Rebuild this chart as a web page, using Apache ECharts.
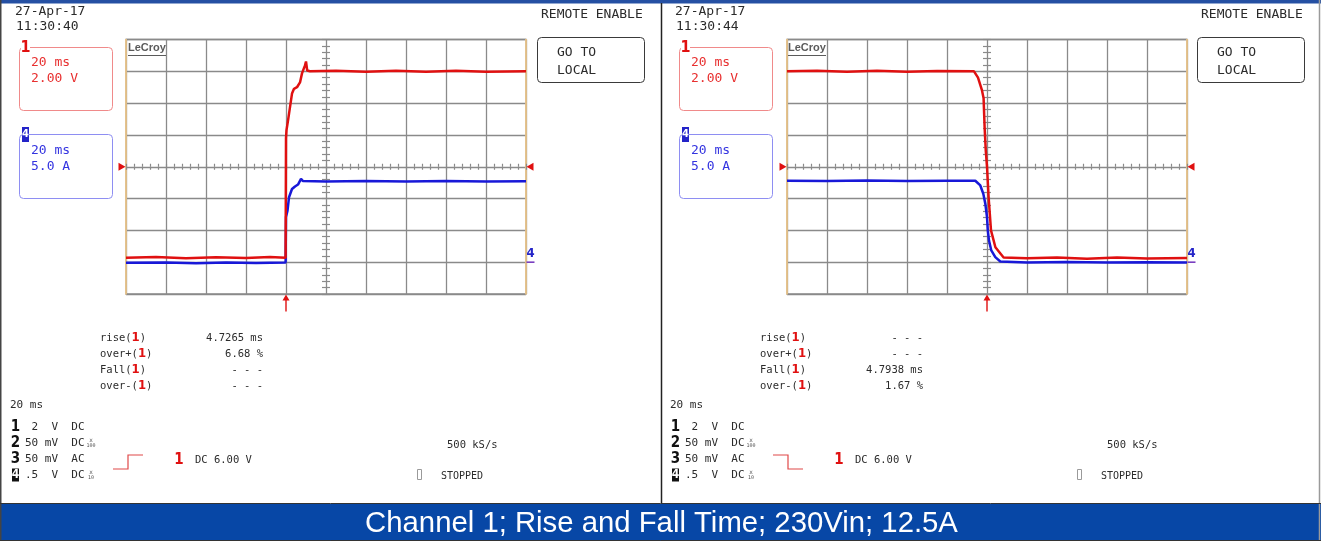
<!DOCTYPE html>
<html>
<head>
<meta charset="utf-8">
<script src="https://cdn.jsdelivr.net/npm/echarts/dist/echarts.min.js"></script>
<style>
html, body { margin: 0; padding: 0; background: #ffffff; }
#c { width: 1321px; height: 541px; }
</style>
</head>
<body>
<div id="c"></div>
<script>
// ---- Acquisition settings -------------------------------------------------
const TIME_RISE = [-80, 120];   // ms, trigger at 0, 20 ms/div
const TIME_FALL = [-100, 100];  // ms, trigger at 0, 20 ms/div
const CH1_RANGE = [-2, 14];     // V, 2 V/div, ground 3 div below centre
const CH4_RANGE = [-5, 35];     // A, 5 A/div, ground 3 div below centre
const TRIG_LEVEL = 6;           // V on channel 1

// ---- Captured traces [ms, value] -------------------------------------------
const RISE_CH1 = [[-80, 0.28], [-65, 0.33], [-50, 0.25], [-35, 0.31], [-20, 0.27], [-8, 0.32], [-0.2, 0.28],
  [0, 7.8], [0.25, 8.3], [1, 8.9], [2, 9.75], [3, 10.6], [4, 10.9], [5.5, 11.0], [7, 11.3], [8, 11.87],
  [9.5, 12.37], [10, 12.62], [10.6, 12.05], [12, 12.0], [25, 12.04], [40, 11.97], [55, 12.03], [70, 11.98],
  [85, 12.03], [100, 11.98], [120, 12.01]];
const RISE_CH4 = [[-80, -0.1], [-60, -0.05], [-45, -0.15], [-30, -0.05], [-15, -0.12], [-0.2, -0.05],
  [0, 7.1], [0.75, 8.1], [1.5, 10.2], [3, 11.5], [4.5, 11.9], [6, 12.2], [7.5, 13.1], [8.5, 12.75],
  [20, 12.7], [40, 12.76], [60, 12.68], [80, 12.75], [100, 12.7], [120, 12.72]];
const FALL_CH1 = [[-100, 12.0], [-85, 12.03], [-70, 11.97], [-55, 12.03], [-40, 11.98], [-25, 12.02],
  [-6.5, 12.0], [-4.5, 11.6], [-2.5, 10.8], [-1.7, 10.3], [-1.2, 8.5], [-0.6, 7.0], [0, 6.0],
  [0.8, 4.1], [2, 2.0], [4.2, 0.94], [8.3, 0.3], [20, 0.24], [35, 0.3], [50, 0.22], [65, 0.29],
  [80, 0.23], [100, 0.27]];
const FALL_CH4 = [[-100, 12.8], [-80, 12.76], [-60, 12.82], [-40, 12.75], [-20, 12.8], [-5.85, 12.8],
  [-3.35, 12.06], [-1.85, 10.75], [-0.85, 9.2], [0, 7.07], [0.4, 5.0], [1.0, 3.4], [2.15, 1.84],
  [4.15, 0.79], [6.65, 0.1], [20, -0.05], [40, 0.02], [60, -0.06], [80, 0.0], [100, -0.04]];

// ---- Screen texts ---------------------------------------------------------
const MEAS_NAMES = ['rise', 'over+', 'Fall', 'over-'];
const RISE_MEAS = ['4.7265 ms', '6.68 %', '- - -', '- - -'];
const FALL_MEAS = ['- - -', '- - -', '4.7938 ms', '1.67 %'];
const STAMPS = [['27-Apr-17', '11:30:40'], ['27-Apr-17', '11:30:44']];
const CH1_LABEL = ['20 ms', '2.00 V'];
const CH4_LABEL = ['20 ms', '5.0 A'];
const CHANNEL_ROWS = [['1', ' 2  V  DC', ''], ['2', '50 mV  DC', '100'], ['3', '50 mV  AC', ''], ['4', '.5  V  DC', '10']];
const TIMEBASE = '20 ms';
const SAMPLE_RATE = '500 kS/s';
const TRIGGER_TEXT = 'DC 6.00 V';
const TITLE = 'Channel 1; Rise and Fall Time; 230Vin; 12.5A';

// ---- Styling ---------------------------------------------------------------
const MONO = '"DejaVu Sans Mono", "Liberation Mono", monospace';
const COND = '"DejaVu Sans Condensed", "DejaVu Sans", sans-serif';
const INK = '#2b2b2b';
const RED = '#e01010';
const BLUE = '#1818d8';
const GRID_C = '#8a8a8a';
const EDGE = '#f3c987';
const PANEL_DX = 661;
const GRID_BOX = { left: 126, top: 39.5, width: 400, height: 254.5 };

const ARROW = 'path://M5,0 L10,6 L6,6 L6,17 L4,17 L4,6 L0,6 Z';

function xAxesFor(gi, range) {
  const base = { gridIndex: gi, type: 'value', min: range[0], max: range[1], interval: 20,
    axisLabel: { show: false }, splitLine: { show: false } };
  const main = Object.assign({}, base, {
    axisLine: { show: false, onZero: false }, axisTick: { show: false },
    splitLine: { show: true, lineStyle: { color: GRID_C, width: 1.3 } }
  });
  const centre = inside => Object.assign({}, base, {
    position: 'bottom', offset: -GRID_BOX.height / 2,
    axisLine: { show: false, onZero: false },
    axisTick: { show: true, inside: inside, length: 3, lineStyle: { color: GRID_C, width: 1.2 } },
    minorTick: { show: true, splitNumber: 5, length: 3, lineStyle: { color: GRID_C, width: 1.2 } }
  });
  return [main, centre(true), centre(false)];
}

function yAxesFor(gi) {
  const red = { gridIndex: gi, type: 'value', min: CH1_RANGE[0], max: CH1_RANGE[1], interval: 2,
    position: 'left', axisLine: { show: true, onZero: false, lineStyle: { color: EDGE, width: 1.6 } },
    axisTick: { show: false }, axisLabel: { show: false },
    splitLine: { show: true, lineStyle: { color: GRID_C, width: 1.3 } } };
  const blue = { gridIndex: gi, type: 'value', min: CH4_RANGE[0], max: CH4_RANGE[1], interval: 5,
    position: 'right', axisLine: { show: true, onZero: false, lineStyle: { color: EDGE, width: 1.6 } },
    axisTick: { show: false }, axisLabel: { show: false }, splitLine: { show: false } };
  const centre = inside => ({ gridIndex: gi, type: 'value', min: CH1_RANGE[0], max: CH1_RANGE[1], interval: 2,
    position: 'left', offset: -GRID_BOX.width / 2,
    axisLine: { show: false, onZero: false }, axisLabel: { show: false }, splitLine: { show: false },
    axisTick: { show: true, inside: inside, length: 4, lineStyle: { color: GRID_C, width: 1.2 } },
    minorTick: { show: true, splitNumber: 5, length: 4, lineStyle: { color: GRID_C, width: 1.2 } } });
  return [red, blue, centre(true), centre(false)];
}

function traceSeries(gi, range, ch1, ch4) {
  const xi = gi * 3, yi = gi * 4;
  return [
    { type: 'line', xAxisIndex: xi, yAxisIndex: yi + 1, data: ch4, showSymbol: false, z: 3,
      lineStyle: { color: BLUE, width: 2.5 },
      markPoint: { silent: true, animation: false, data: [
        { coord: [range[1], 0], symbol: 'rect', symbolSize: [8, 1.6], symbolOffset: [4.5, 0],
          itemStyle: { color: '#7a3fc0' },
          label: { show: true, formatter: '4', position: 'top', distance: 1, color: '#2424c8',
            fontWeight: 'bold', fontSize: 13, fontFamily: COND } }
      ] } },
    { type: 'line', xAxisIndex: xi, yAxisIndex: yi, data: ch1, showSymbol: false, z: 4,
      lineStyle: { color: RED, width: 2.5 },
      markPoint: { silent: true, animation: false, label: { show: false }, itemStyle: { color: RED }, data: [
        { coord: [range[0], TRIG_LEVEL], symbol: 'triangle', symbolSize: [8, 7], symbolRotate: -90, symbolOffset: [-4, 0] },
        { coord: [range[1], TRIG_LEVEL], symbol: 'triangle', symbolSize: [8, 7], symbolRotate: 90, symbolOffset: [4, 0] },
        { coord: [0, CH1_RANGE[0]], symbol: ARROW, symbolSize: [7, 17], symbolOffset: [0, 9] }
      ] } }
  ];
}

function txt(x, y, text, font, fill, align) {
  return { type: 'text', silent: true, z: 100,
    style: { x: x, y: y, text: text, font: font, fill: fill || INK,
      align: align || 'left', verticalAlign: 'middle', textAlign: align || 'left', textVerticalAlign: 'middle' } };
}
function box(x, y, w, h, stroke, fill, r) {
  return { type: 'rect', silent: true, z: 99, shape: { x: x, y: y, width: w, height: h, r: r || 0 },
    style: { fill: fill || 'none', stroke: stroke || 'none', lineWidth: 1 } };
}

function panelGraphics(ox, stamp, meas, rising) {
  const g = [];
  g.push(txt(ox + 15, 12, stamp[0], '13px ' + MONO));
  g.push(txt(ox + 16, 27, stamp[1], '13px ' + MONO));
  g.push(txt(ox + 541, 15, 'REMOTE ENABLE', '13px ' + MONO));
  g.push(box(ox + 537.5, 37.5, 107, 45, '#3a3a3a', 'none', 4));
  g.push(txt(ox + 557, 53, 'GO TO', '13px ' + MONO));
  g.push(txt(ox + 557, 71, 'LOCAL', '13px ' + MONO));

  // channel 1 descriptor
  g.push(box(ox + 19.5, 47.5, 93, 63, '#f08a8a', 'none', 4));
  g.push(box(ox + 21, 40, 9, 12, null, '#ffffff'));
  g.push(txt(ox + 25.5, 48, '1', 'bold 16px ' + COND, RED, 'center'));
  g.push(txt(ox + 31, 63, CH1_LABEL[0], '13px ' + MONO, '#e83030'));
  g.push(txt(ox + 31, 79, CH1_LABEL[1], '13px ' + MONO, '#e83030'));

  // channel 4 descriptor
  g.push(box(ox + 19.5, 134.5, 93, 64, '#8e8ef2', 'none', 4));
  g.push(box(ox + 22, 127, 7, 15, null, '#2323c8'));
  g.push(txt(ox + 25.5, 134.5, '4', 'bold 11px ' + COND, '#ffffff', 'center'));
  g.push(txt(ox + 31, 151, CH4_LABEL[0], '13px ' + MONO, '#3434e0'));
  g.push(txt(ox + 31, 167, CH4_LABEL[1], '13px ' + MONO, '#3434e0'));

  // maker logo in the graticule
  g.push(txt(ox + 128, 48, 'LeCroy', 'bold 11px "Liberation Sans", Arial, sans-serif', '#5a5a5a'));
  g.push({ type: 'line', silent: true, z: 100, shape: { x1: ox + 128, y1: 55.5, x2: ox + 166, y2: 55.5 },
    style: { stroke: '#5a5a5a', lineWidth: 1 } });

  // measurement block
  MEAS_NAMES.forEach((n, i) => {
    const y = 338 + 16 * i;
    const t = txt(ox + 100, y, n + '({r|1})', '10.5px ' + MONO);
    t.style.rich = { r: { fill: RED, font: 'bold 13px ' + COND } };
    g.push(t);
    g.push(txt(ox + 263, y, meas[i], '10.5px ' + MONO, INK, 'right'));
  });

  g.push(txt(ox + 10, 405, TIMEBASE, '11px ' + MONO));
  CHANNEL_ROWS.forEach((row, i) => {
    const y = 427 + 16 * i;
    if (row[0] === '4') {
      g.push(box(ox + 12, y - 6.5, 7, 13, null, '#111111'));
      g.push(txt(ox + 15.5, y, row[0], 'bold 12px ' + COND, '#ffffff', 'center'));
    } else {
      g.push(txt(ox + 15.5, y, row[0], 'bold 15px ' + COND, '#111111', 'center'));
    }
    g.push(txt(ox + 25, y, row[1], '11px ' + MONO));
    if (row[2]) {
      g.push(txt(ox + 91, y - 3, 'x', '6px ' + MONO, '#555', 'center'));
      g.push(txt(ox + 91, y + 3, row[2], '5px ' + MONO, '#555', 'center'));
    }
  });

  // trigger slope symbol and source
  const pts = rising
    ? [[113, 469], [128, 469], [128, 455], [143, 455]]
    : [[113, 455], [128, 455], [128, 469], [143, 469]];
  g.push({ type: 'polyline', silent: true, z: 100, shape: { points: pts.map(p => [ox + p[0], p[1]]) },
    style: { stroke: '#e04848', lineWidth: 1.2, fill: null } });
  g.push(txt(ox + 179, 460, '1', 'bold 15px ' + COND, RED, 'center'));
  g.push(txt(ox + 195, 460, TRIGGER_TEXT, '10.5px ' + MONO));

  g.push(txt(ox + 447, 445, SAMPLE_RATE, '10.5px ' + MONO));
  g.push(box(ox + 417.5, 469.5, 4, 10, '#9a9a9a', 'none'));
  g.push(txt(ox + 441, 476, 'STOPPED', '10px ' + MONO));
  return g;
}

const frame = [
  box(0, 0, 1321, 541, null, '#ffffff'),
  box(0, 0, 1321, 3.5, null, '#2550a3'),
  { type: 'line', silent: true, z: 100, shape: { x1: 0.75, y1: 0, x2: 0.75, y2: 541 }, style: { stroke: '#444', lineWidth: 1.5 } },
  { type: 'line', silent: true, z: 100, shape: { x1: 1319.5, y1: 0, x2: 1319.5, y2: 541 }, style: { stroke: '#9a9a9a', lineWidth: 1.5 } },
  { type: 'line', silent: true, z: 100, shape: { x1: 661.5, y1: 3, x2: 661.5, y2: 504 }, style: { stroke: '#222', lineWidth: 1.5 } },
  box(0, 504, 1321, 37, null, '#0747a6'),
  { type: 'line', silent: true, z: 100, shape: { x1: 0, y1: 503.5, x2: 1321, y2: 503.5 }, style: { stroke: '#333', lineWidth: 1 } },
  { type: 'line', silent: true, z: 100, shape: { x1: 0, y1: 540.5, x2: 1321, y2: 540.5 }, style: { stroke: '#333', lineWidth: 1 } },
  txt(661.5, 523.5, TITLE, '29.3px "Liberation Sans", Arial, sans-serif', '#ffffff', 'center')
];
frame[0].z = -10;

const chart = echarts.init(document.getElementById('c'), null, { renderer: 'canvas' });
chart.setOption({
  animation: false,
  backgroundColor: '#ffffff',
  grid: [
    Object.assign({ show: true, borderColor: GRID_C, borderWidth: 1.3, backgroundColor: 'transparent' }, GRID_BOX),
    Object.assign({ show: true, borderColor: GRID_C, borderWidth: 1.3, backgroundColor: 'transparent' }, GRID_BOX,
      { left: GRID_BOX.left + PANEL_DX })
  ],
  xAxis: xAxesFor(0, TIME_RISE).concat(xAxesFor(1, TIME_FALL)),
  yAxis: yAxesFor(0).concat(yAxesFor(1)),
  series: traceSeries(0, TIME_RISE, RISE_CH1, RISE_CH4).concat(traceSeries(1, TIME_FALL, FALL_CH1, FALL_CH4)),
  graphic: { elements: frame
    .concat(panelGraphics(0, STAMPS[0], RISE_MEAS, true))
    .concat(panelGraphics(PANEL_DX - 1, STAMPS[1], FALL_MEAS, false)) }
});
</script>
</body>
</html>
